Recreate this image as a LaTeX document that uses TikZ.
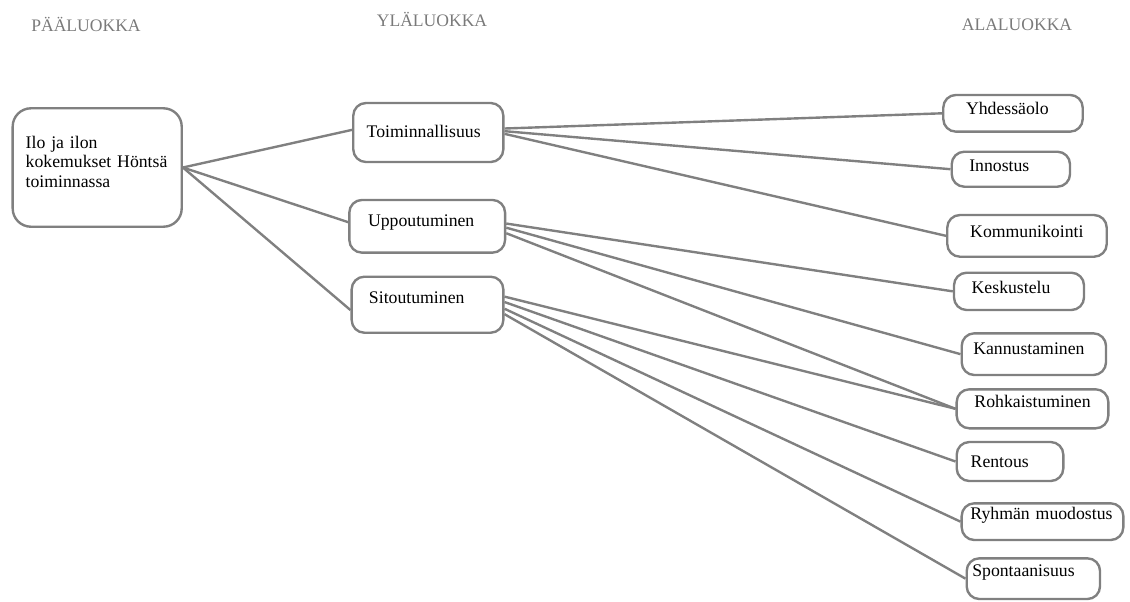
\documentclass[tikz,border=0pt]{standalone}
\usepackage{fontspec}
\setmainfont{Liberation Serif}
\usepackage{tikz}
\usetikzlibrary{positioning}
\definecolor{linegray}{RGB}{128,128,128}
\definecolor{headgray}{RGB}{122,122,122}
\tikzset{
  catbox/.style={draw=linegray, line width=1.7pt, rounded corners=9pt, align=left,
                 inner ysep=1pt, font=\fontsize{12.6}{13.9}\selectfont},
  % pad, text width, height, text depth
  dims/.style n args={4}{inner xsep=#1, text width=#2, minimum height=#3,
                         text height=9pt, text depth=#4},
  link/.style={draw=linegray, line width=1.7pt},
  head/.style={text=headgray, font=\fontsize{12.5}{15}\selectfont},
}

\begin{document}
\begin{tikzpicture}[x=0.025cm, y=-0.025cm]
  \useasboundingbox (0,0) rectangle (1130,601);

  % headings
  \node[head] (lab1) at (86,24) {PÄÄLUOKKA};
  \node[head] (lab2) at (432,19) {YLÄLUOKKA};
  \node[head] (lab3) at (1017,25) {ALALUOKKA};

  % main category
  \node[catbox, rounded corners=13pt, dims={0.325cm}{3.575cm}{2.96cm}{36.3pt}] (main) at (97.2,167.5)
        {Ilo ja ilon\\kokemukset~Höntsä\\toiminnassa};

  % upper categories
  \node[catbox, dims={0.335cm}{3.08cm}{1.475cm}{1.6pt}] (up1) at (428.3,132.5) {Toiminnallisuus};
  \node[catbox, dims={0.4675cm}{2.9575cm}{1.3175cm}{8.4pt}] (up2) at (427.2,226.3) {Uppoutuminen};
  \node[catbox, dims={0.4325cm}{2.925cm}{1.4cm}{11pt}] (up3) at (427.5,304.7) {Sitoutuminen};

  % sub categories
  \node[catbox, dims={0.5675cm}{2.35cm}{0.9175cm}{7.6pt}] (sub1) at (1013,113.3) {Yhdessäolo};
  \node[catbox, dims={0.44cm}{2.0775cm}{0.875cm}{5.4pt}] (sub2) at (1010.85,169.2) {Innostus};
  \node[catbox, dims={0.574cm}{2.8375cm}{1.0425cm}{6.9pt}] (sub3) at (1027,235.85) {Kommunikointi};
  \node[catbox, dims={0.4425cm}{2.365cm}{0.9325cm}{6.2pt}] (sub4) at (1019,291.35) {Keskustelu};
  \node[catbox, dims={0.29cm}{3.0275cm}{1.0425cm}{7.9pt}] (sub5) at (1033.85,354.15) {Kannustaminen};
  \node[catbox, dims={0.445cm}{2.9cm}{0.975cm}{10.4pt}] (sub6) at (1032.5,408.8) {Rohkaistuminen};
  \node[catbox, dims={0.35cm}{1.965cm}{0.975cm}{0.5pt}] (sub7) at (1010,461.5) {Rentous};
  \node[catbox, dims={0.22cm}{3.6cm}{0.9175cm}{11.4pt}] (sub8) at (1042.5,521.65) {\mbox{Ryhmän muodostus}};
  \node[catbox, dims={0.14cm}{3.0525cm}{1.0175cm}{11.8pt}] (sub9) at (1033.35,578.65) {Spontaanisuus};

  % main -> upper
  \draw[link] (main.east) -- (up1.178);
  \draw[link] (main.east) -- (up2.177);
  \draw[link] (main.east) -- (up3.184);

  % upper -> sub
  \draw[link] (up1.3) -- (sub1.west);
  \draw[link] (up1.1) -- (sub2.west);
  \draw[link] (up1.-1) -- (sub3.west);
  \draw[link] (up2.2) -- (sub4.west);
  \draw[link] (up2.-1) -- (sub5.west);
  \draw[link] (up2.-5) -- (sub6.west);
  \draw[link] (up3.6) -- (sub6.west);
  \draw[link] (up3.2) -- (sub7.west);
  \draw[link] (up3.-3) -- (sub8.west);
  \draw[link] (up3.-7) -- (sub9.west);
\end{tikzpicture}
\end{document}
